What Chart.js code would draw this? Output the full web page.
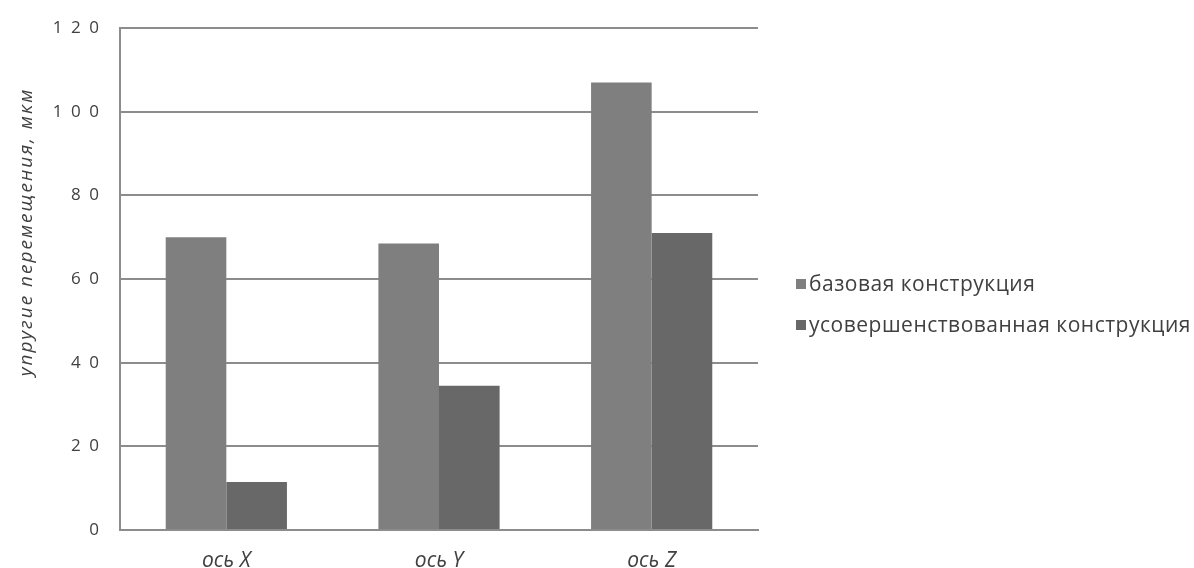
<!DOCTYPE html>
<html>
<head>
<meta charset="utf-8">
<script src="https://cdn.jsdelivr.net/npm/chart.js@4/dist/chart.umd.min.js"></script>
<style>
  html, body { margin: 0; padding: 0; background: #fff; }
  #wrap { position: relative; width: 1194px; height: 568px; }
  #legend { position: absolute; left: 796px; top: 268px; font-family: "Open Sans", sans-serif; font-size: 21px; letter-spacing: 0.5px; color: #404040; }
  #legend div { height: 41px; line-height: 30px; white-space: nowrap; }
  #legend span { display: inline-block; width: 10px; height: 10px; margin-right: 3px; vertical-align: 2px; }
</style>
</head>
<body>
<div id="wrap">
  <canvas id="chart" width="1194" height="568"></canvas>
  <div id="legend"></div>
</div>
<script>
// категории и значения (мкм)
const categories = ["ось X", "ось Y", "ось Z"];
const baseValues = [70, 68.5, 107];
const improvedValues = [11.5, 34.5, 71];
const seriesNames = ["базовая конструкция", "усовершенствованная конструкция"];
const seriesColors = ["#7f7f7f", "#686868"];
const yTicks = [0, 20, 40, 60, 80, 100, 120];
const yTitle = "упругие перемещения, мкм";

// подпись оси Y рисуем сами, чуть выше центра
const yTitlePlugin = {
  id: "yTitle",
  afterDraw(chart) {
    const ctx = chart.ctx;
    ctx.save();
    ctx.translate(27, 232);
    ctx.rotate(-Math.PI / 2);
    ctx.font = "italic 19px 'Open Sans', sans-serif";
    ctx.letterSpacing = "2px";
    ctx.fillStyle = "#404040";
    ctx.textAlign = "center";
    ctx.textBaseline = "middle";
    ctx.fillText(yTitle, 0, 0);
    ctx.letterSpacing = "0px";
    ctx.restore();
  }
};

const chart = new Chart(document.getElementById("chart"), {
  type: "bar",
  data: {
    labels: categories,
    datasets: [
      { label: seriesNames[0], data: baseValues, backgroundColor: seriesColors[0] },
      { label: seriesNames[1], data: improvedValues, backgroundColor: seriesColors[1] }
    ]
  },
  options: {
    responsive: false,
    animation: false,
    layout: { padding: { left: 0, right: 436, top: 28, bottom: 0 } },
    plugins: { legend: { display: false }, tooltip: { enabled: false } },
    datasets: { bar: { categoryPercentage: 0.57, barPercentage: 1 } },
    scales: {
      x: {
        grid: { display: false },
        border: { display: true, color: "#8c8c8c", width: 2 },
        ticks: {
          padding: 10,
          color: "#404040",
          font: { family: "'Open Sans', sans-serif", size: 21, style: "italic" }
        },
        afterFit(scale) { scale.height = 38; }
      },
      y: {
        min: 0,
        max: yTicks[yTicks.length - 1],
        afterBuildTicks(scale) { scale.ticks = yTicks.map(v => ({ value: v })); },
        grid: { color: "#8c8c8c", lineWidth: 2, drawTicks: false },
        border: { display: true, color: "#8c8c8c", width: 2 },
        ticks: {
          padding: 21,
          color: "#404040",
          font: { family: "'Open Sans', sans-serif", size: 17 },
          callback: v => String(v).split("").join("\u2002")
        },
        afterFit(scale) {
          scale.width = 120;
          scale.paddingTop = 0;
          scale.paddingBottom = 0;
        }
      }
    }
  },
  plugins: [yTitlePlugin]
});

// легенда справа
document.getElementById("legend").innerHTML = chart.data.datasets
  .map(ds => `<div><span style="background:${ds.backgroundColor}"></span>${ds.label}</div>`)
  .join("");
</script>
</body>
</html>
